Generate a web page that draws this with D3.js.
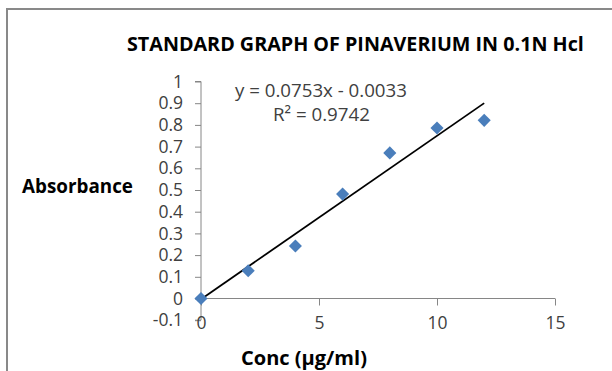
<!DOCTYPE html>
<html>
<head>
<meta charset="utf-8">
<script src="https://cdn.jsdelivr.net/npm/d3@7"></script>
<style>
  html, body { margin: 0; padding: 0; background: #fff; }
  svg { display: block; }
  text { font-family: "Open Sans", "Liberation Sans", sans-serif; }
</style>
</head>
<body>
<svg id="chart" width="612" height="371"></svg>
<script>
// Standard curve readings
const conc = [0, 2, 4, 6, 8, 10, 12];
const absorbance = [0, 0.128, 0.242, 0.481, 0.671, 0.786, 0.821];

// Linear trendline (as printed on the chart)
const slope = 0.0753;
const intercept = -0.0033;
const rSquared = "0.9742";

const xTicks = [0, 5, 10, 15];
const yTicks = [-0.1, 0, 0.1, 0.2, 0.3, 0.4, 0.5, 0.6, 0.7, 0.8, 0.9, 1];

const titleText = "STANDARD GRAPH OF PINAVERIUM IN 0.1N Hcl";
const yTitle = "Absorbance";
const xTitle = "Conc (µg/ml)";

const svg = d3.select("#chart");

// Chart frame
svg.append("rect")
  .attr("x", 7).attr("y", 9)
  .attr("width", 700).attr("height", 420)
  .attr("fill", "#fff")
  .attr("stroke", "#898989")
  .attr("stroke-width", 2);

const x = d3.scaleLinear().domain([0, 15]).range([201, 555]);
const y = d3.scaleLinear().domain([-0.1, 1]).range([320.2, 81.5]);

const axisColor = "#868686";
const tickColor = "#404040";
const boldFont = "'Open Sans', sans-serif";

// Scale a text's font size so it spans a given width
function fitWidth(sel, width) {
  const node = sel.node();
  const base = parseFloat(sel.attr("font-size"));
  const w = node.getComputedTextLength();
  sel.attr("font-size", (base * width / w).toFixed(2));
  return sel;
}

// Plain hyphen for negatives
const fmtY = d => String(+d.toFixed(1));

// Y axis
const yAxis = svg.append("g")
  .attr("transform", `translate(${x(0)},0)`)
  .call(d3.axisLeft(y).tickValues(yTicks).tickSize(6).tickPadding(12).tickFormat(fmtY));
yAxis.select(".domain").attr("stroke", axisColor).attr("d", `M-6,${y(1)}H0V${y(-0.1)}H-6`);
yAxis.selectAll(".tick line").attr("stroke", axisColor);
yAxis.selectAll(".tick text")
  .attr("fill", tickColor)
  .attr("font-size", 17.5)
  .attr("font-family", "'Open Sans', sans-serif");

// X axis, crossing at y = 0
const xAxis = svg.append("g")
  .attr("transform", `translate(0,${y(0)})`)
  .call(d3.axisBottom(x).tickValues(xTicks).tickSize(7).tickPadding(14).tickFormat(d => String(d)));
xAxis.select(".domain").attr("stroke", axisColor).attr("d", `M${x(0)},0H${x(15)}`);
xAxis.selectAll(".tick line").attr("stroke", axisColor);
xAxis.selectAll(".tick text")
  .attr("fill", tickColor)
  .attr("font-size", 17.5)
  .attr("font-family", "'Open Sans', sans-serif")
  .attr("dy", "0.55em");

// Trendline across the data range
const xMin = d3.min(conc), xMax = d3.max(conc);
svg.append("line")
  .attr("x1", x(xMin)).attr("y1", y(slope * xMin + intercept))
  .attr("x2", x(xMax)).attr("y2", y(slope * xMax + intercept))
  .attr("stroke", "#000")
  .attr("stroke-width", 1.8);

// Diamond markers
const diamond = d3.symbol().type(d3.symbolSquare).size(86);
svg.append("g").selectAll("path")
  .data(conc.map((c, i) => [c, absorbance[i]]))
  .join("path")
  .attr("d", diamond)
  .attr("transform", d => `translate(${x(d[0])},${y(d[1])}) rotate(45)`)
  .attr("fill", "#4A7EBB");

// Title
const title = svg.append("text")
  .attr("x", 127).attr("y", 51)
  .attr("font-size", 17).attr("font-weight", "bold")
  .attr("font-family", boldFont)
  .attr("fill", "#000")
  .text(titleText);
fitWidth(title, 457);

// Axis titles
const yt = svg.append("text")
  .attr("x", 22).attr("y", 193)
  .attr("font-size", 15).attr("font-weight", "bold")
  .attr("font-family", boldFont)
  .attr("fill", "#000")
  .text(yTitle);
fitWidth(yt, 111);

const xt = svg.append("text")
  .attr("x", 241).attr("y", 365)
  .attr("font-size", 15).attr("font-weight", "bold")
  .attr("font-family", boldFont)
  .attr("fill", "#000")
  .text(xTitle);
fitWidth(xt, 126);

// Trendline equation and R²
const eq = svg.append("text")
  .attr("x", 235).attr("y", 97)
  .attr("font-size", 16)
  .attr("fill", tickColor)
  .text(`y = ${slope}x - ${Math.abs(intercept)}`);
fitWidth(eq, 172);

const r2 = svg.append("text")
  .attr("x", 273).attr("y", 121)
  .attr("font-size", 16)
  .attr("fill", tickColor)
  .text(`R² = ${rSquared}`);
fitWidth(r2, 97);
</script>
</body>
</html>
